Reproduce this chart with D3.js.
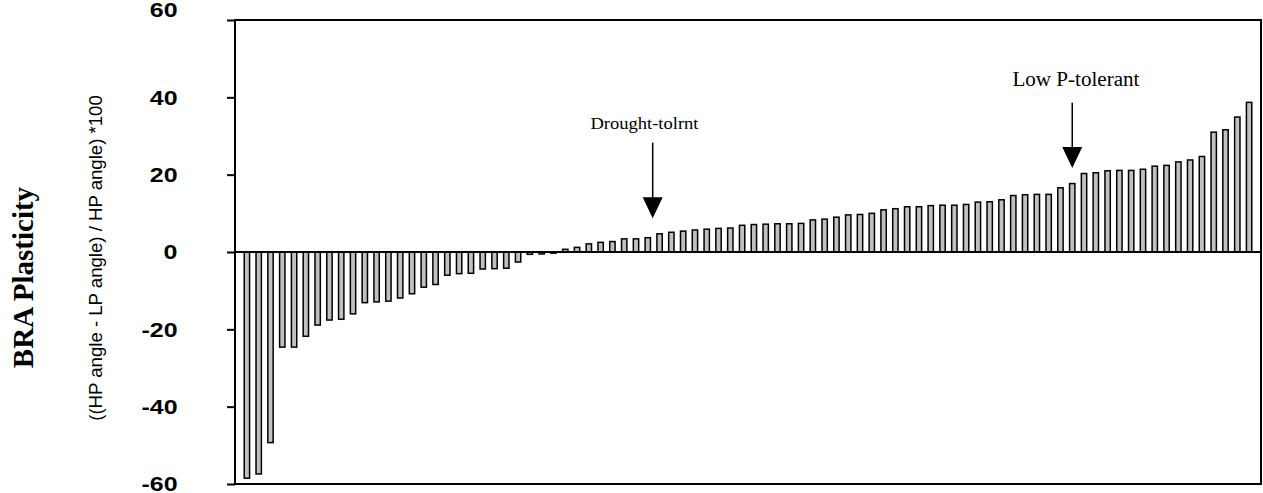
<!DOCTYPE html>
<html>
<head>
<meta charset="utf-8">
<script src="https://cdn.jsdelivr.net/npm/d3@7"></script>
<style>
  html, body { margin: 0; padding: 0; background: #fff; }
  svg { display: block; }
</style>
</head>
<body>
<svg id="chart" width="1263" height="493"></svg>
<script>
// BRA plasticity per genotype, sorted ascending: ((HP angle - LP angle) / HP angle) * 100
const plasticity = [
  -58.5, -57.4, -49.3, -24.6, -24.6, -21.8, -18.9, -17.6, -17.4, -16.0,
  -13.1, -12.9, -12.7, -11.9, -10.8, -9.1, -8.4, -6.0, -5.6, -5.5,
  -4.4, -4.3, -4.2, -2.6, -0.6, -0.5, -0.3, 0.7, 1.2, 2.1,
  2.5, 2.7, 3.4, 3.4, 3.7, 4.7, 5.1, 5.4, 5.7, 5.9,
  6.1, 6.2, 6.9, 7.1, 7.2, 7.3, 7.3, 7.4, 8.3, 8.5,
  9.0, 9.6, 9.7, 10.0, 10.9, 11.2, 11.7, 11.7, 12.0, 12.1,
  12.1, 12.3, 12.9, 13.0, 13.5, 14.6, 14.8, 14.9, 14.9, 16.6,
  17.7, 20.3, 20.5, 21.0, 21.1, 21.1, 21.4, 22.2, 22.4, 23.3,
  23.8, 24.7, 31.0, 31.6, 34.9, 38.7
];
const genotypes = plasticity.map((_, i) => `G${i + 1}`);
const yTicks = [-60, -40, -20, 0, 20, 40, 60];

// Highlighted genotypes (1-based rank in the sorted list)
const highlightLabels = ["Drought-tolrnt", "Low P-tolerant"];
const highlightRanks = [35, 71];

// ---- layout ----
const plot = { left: 235, right: 1261, top: 20, bottom: 484 };
const svg = d3.select("#chart");

const y = d3.scaleLinear().domain([-60, 60]).range([plot.bottom, plot.top]);
const x = d3.scaleBand()
  .domain(genotypes)
  .range([plot.left, plot.right])
  .paddingInner(0.42)
  .paddingOuter(0.72);

// ---- bars ----
const sw = 1.5;
svg.append("g")
  .selectAll("rect")
  .data(plasticity)
  .join("rect")
  .attr("x", (d, i) => x(genotypes[i]) + sw / 2)
  .attr("width", x.bandwidth() - sw)
  .attr("y", d => Math.min(y(d), y(0)))
  .attr("height", d => Math.abs(y(d) - y(0)))
  .attr("fill", "#c0c0c0")
  .attr("stroke", "#000")
  .attr("stroke-width", sw);

// ---- frame and zero line ----
svg.append("rect")
  .attr("x", plot.left).attr("y", plot.top)
  .attr("width", plot.right - plot.left).attr("height", plot.bottom - plot.top)
  .attr("fill", "none").attr("stroke", "#000").attr("stroke-width", 2);

svg.append("line")
  .attr("x1", plot.left).attr("x2", plot.right)
  .attr("y1", y(0)).attr("y2", y(0))
  .attr("stroke", "#000").attr("stroke-width", 2);

// ---- y axis ----
const yAxis = svg.append("g")
  .attr("transform", `translate(${plot.left},0)`)
  .call(d3.axisLeft(y).tickValues(yTicks).tickSize(8).tickSizeOuter(0).tickFormat(d => String(d)));
yAxis.select(".domain").remove();
yAxis.selectAll(".tick line").attr("stroke", "#000").attr("stroke-width", 2);
yAxis.selectAll(".tick text")
  .attr("x", 0)
  .attr("dy", d => d === 60 ? "-0.2em" : "0.35em")
  .attr("transform", "translate(-57.5,0) scale(1.28,1)")
  .attr("text-anchor", "end")
  .attr("fill", "#000")
  .style("font-family", "'Liberation Sans', Arial, sans-serif")
  .style("font-weight", "bold")
  .style("font-size", "19.5px");

// ---- y titles ----
svg.append("text")
  .attr("transform", `translate(33,${277.5}) rotate(-90)`)
  .attr("text-anchor", "middle")
  .style("font-family", "'Liberation Serif', 'Times New Roman', serif")
  .style("font-weight", "bold")
  .style("font-size", "29px")
  .text("BRA Plasticity");

svg.append("text")
  .attr("transform", `translate(102,258) rotate(-90)`)
  .attr("text-anchor", "middle")
  .style("font-family", "'Liberation Sans', Arial, sans-serif")
  .style("font-size", "18.6px")
  .text("((HP angle - LP angle) / HP angle) *100");

// ---- annotations: label, arrow shaft and arrowhead ----
const annoStyle = [
  { dx: 4.9, textDx: -8.2, textY: 31.7, shaftTop: 28.3, tip: 8.7, size: 16.6, len: 108 },
  { dx: 0,   textDx: 3.7,  textY: 42.9, shaftTop: 38.6, tip: 21.7, size: 20,   len: 127 }
];
const headW = 20, headH = 21;
highlightRanks.forEach((rank, k) => {
  const s = annoStyle[k];
  const ax = x(genotypes[rank - 1]) + x.bandwidth() / 2 + s.dx;
  const tipY = y(s.tip);
  const g = svg.append("g");
  g.append("text")
    .attr("x", ax + s.textDx)
    .attr("y", y(s.textY))
    .attr("text-anchor", "middle")
    .attr("textLength", s.len)
    .attr("lengthAdjust", "spacingAndGlyphs")
    .style("font-family", "'Liberation Serif', 'Times New Roman', serif")
    .style("font-size", s.size + "px")
    .text(highlightLabels[k]);
  g.append("line")
    .attr("x1", ax).attr("x2", ax)
    .attr("y1", y(s.shaftTop)).attr("y2", tipY - headH + 1)
    .attr("stroke", "#000").attr("stroke-width", 1.5);
  g.append("path")
    .attr("d", `M${ax - headW / 2},${tipY - headH} L${ax + headW / 2},${tipY - headH} L${ax},${tipY} Z`)
    .attr("fill", "#000");
});
</script>
</body>
</html>
